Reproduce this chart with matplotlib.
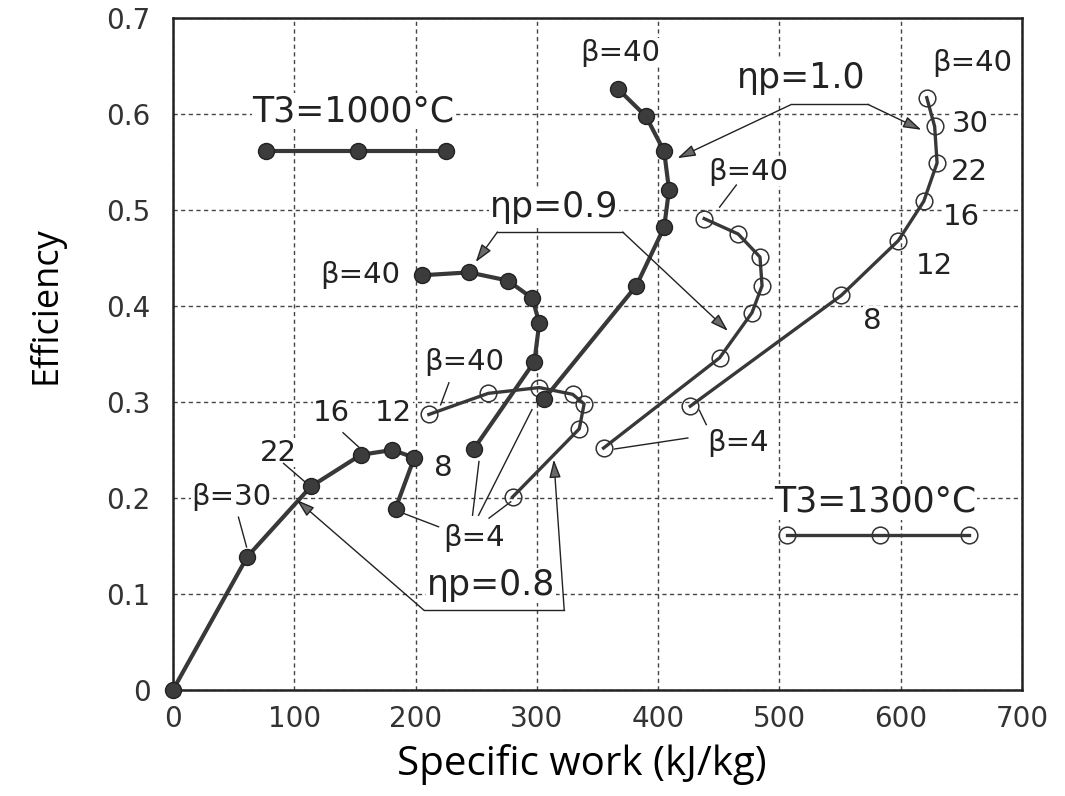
import matplotlib
matplotlib.use("Agg")
import matplotlib.pyplot as plt

# ---------------- data ----------------
# T3 = 1000 C (filled markers), beta order: 40,30,22,16,12,8,4
w_08_1000 = [0, 61.4, 113.8, 155, 181, 199, 183.5]
e_08_1000 = [0.0, 0.139, 0.212, 0.245, 0.250, 0.242, 0.189]

w_09_1000 = [205.5, 244, 276, 296.4, 302, 298, 248]
e_09_1000 = [0.432, 0.435, 0.4265, 0.408, 0.382, 0.342, 0.251]

w_10_1000 = [367, 390, 405, 409, 405, 382, 306]
e_10_1000 = [0.626, 0.5975, 0.561, 0.521, 0.482, 0.421, 0.303]

# T3 = 1300 C (open markers), beta order: 40,30,22,16,12,8,4
w_08_1300 = [211, 260, 302, 329.5, 339, 335, 280]
e_08_1300 = [0.287, 0.309, 0.315, 0.308, 0.298, 0.272, 0.201]

w_09_1300 = [438, 466, 484, 485.7, 477.4, 450.7, 355]
e_09_1300 = [0.491, 0.475, 0.451, 0.421, 0.393, 0.346, 0.252]

w_10_1300 = [621.5, 628, 630, 619, 598, 551, 426.5]
e_10_1300 = [0.617, 0.587, 0.549, 0.509, 0.468, 0.411, 0.2956]

# legend samples
leg1000_x = [76.6, 152.3, 224.8]
leg1000_y = [0.561, 0.561, 0.561]
leg1300_x = [506, 583, 656.5]
leg1300_y = [0.161, 0.161, 0.161]

xticks = [0, 100, 200, 300, 400, 500, 600, 700]
yticks = [0, 0.1, 0.2, 0.3, 0.4, 0.5, 0.6, 0.7]
ytick_labels = ["0", "0.1", "0.2", "0.3", "0.4", "0.5", "0.6", "0.7"]

# text labels: (text, x, y, size)
labels = [
    ("β=30", 48.5, 0.201, 21),
    ("22", 87, 0.247, 21),
    ("16", 131, 0.289, 21),
    ("12", 182, 0.289, 21),
    ("8", 223, 0.231, 21),
    ("β=4", 248, 0.158, 21),
    ("β=40", 154.5, 0.432, 21),
    ("β=40", 240, 0.342, 21),
    ("β=40", 369, 0.664, 21),
    ("β=40", 474, 0.540, 21),
    ("β=40", 658.7, 0.653, 21),
    ("30", 657, 0.5895, 21),
    ("22", 657, 0.540, 21),
    ("16", 650, 0.493, 21),
    ("12", 628, 0.442, 21),
    ("8", 577, 0.3846, 21),
    ("β=4", 466, 0.257, 21),
    ("ηp=0.8", 262, 0.109, 25),
    ("ηp=0.9", 314.5, 0.503, 25),
    ("ηp=1.0", 518, 0.6377, 25),
    ("T3=1000°C", 149, 0.603, 25),
    ("T3=1300°C", 579, 0.196, 25),
]

# leader lines: (x0, y0, x1, y1)
leaders = [
    (54, 0.180, 60.7, 0.149),
    (91.2, 0.236, 110.5, 0.215),
    (140.2, 0.268, 153.2, 0.253),
    (219, 0.170, 190, 0.184),
    (247, 0.182, 252.3, 0.238),
    (252, 0.182, 296, 0.292),
    (260.6, 0.179, 278.5, 0.196),
    (227.5, 0.320, 220.7, 0.297),
    (464.5, 0.526, 450.7, 0.503),
    (424.5, 0.2625, 364, 0.251),
    (439.7, 0.2764, 434, 0.2914),
]

# arrow callouts: corner1, corner2, tip1 (from corner1), tip2 (from corner2)
callouts = [
    ((207, 0.083), (322.6, 0.083), (102, 0.198), (314, 0.240)),
    ((267.5, 0.477), (370.8, 0.477), (249.6, 0.4457), (457.6, 0.374)),
    ((510, 0.610), (573, 0.610), (416, 0.554), (617, 0.5835)),
]

# ---------------- plot ----------------
dark = "#383838"
fig = plt.figure(figsize=(10.65, 7.96), dpi=100)
ax = fig.add_axes([0.1624, 0.1332, 0.7972, 0.8442])
ax.set_xlim(0, 700)
ax.set_ylim(0, 0.7)
ax.set_axisbelow(True)
ax.grid(True, color="#444444", linestyle=(0, (3, 2.5)), linewidth=1.0)

filled = dict(color=dark, linewidth=3.0, marker="o", markersize=11.5,
              markerfacecolor="#3c3c3c", markeredgecolor="#222222",
              markeredgewidth=1.0, zorder=4, clip_on=False)
opened = dict(color=dark, linewidth=2.4, marker="o", markersize=12,
              markerfacecolor="none", markeredgecolor="#333333",
              markeredgewidth=1.1, zorder=3, clip_on=False)

for w, e in [(w_08_1000, e_08_1000), (w_09_1000, e_09_1000), (w_10_1000, e_10_1000)]:
    ax.plot(w, e, **filled)
for w, e in [(w_08_1300, e_08_1300), (w_09_1300, e_09_1300), (w_10_1300, e_10_1300)]:
    ax.plot(w, e, **opened)

ax.plot(leg1000_x, leg1000_y, **filled)
ax.plot(leg1300_x, leg1300_y, **opened)

for t, x, y, s in labels:
    ax.text(x, y, t, fontsize=s, ha="center", va="center", color="#222222",
            family="DejaVu Sans", zorder=1.5,
            bbox=dict(facecolor="white", edgecolor="none", pad=0.5))

for x0, y0, x1, y1 in leaders:
    ax.plot([x0, x1], [y0, y1], color="#222222", linewidth=1.0, zorder=2)

for c1, c2, t1, t2 in callouts:
    ax.plot([c1[0], c2[0]], [c1[1], c2[1]], color="#222222", linewidth=1.0, zorder=2)
    for c, t in [(c1, t1), (c2, t2)]:
        ax.annotate("", xy=t, xytext=c, zorder=5,
                    arrowprops=dict(arrowstyle="-|>,head_length=1.1,head_width=0.35",
                                    facecolor="#6a6a6a", edgecolor="#222222",
                                    linewidth=1.0, shrinkA=0, shrinkB=0))

ax.set_xticks(xticks)
ax.set_xticklabels([str(v) for v in xticks])
ax.set_yticks(yticks)
ax.set_yticklabels(ytick_labels)
ax.tick_params(length=0, labelsize=20, labelcolor="#333333")
ax.tick_params(axis="x", pad=11)
ax.tick_params(axis="y", pad=16)
for sp in ax.spines.values():
    sp.set_linewidth(1.8)
    sp.set_color("#222222")

ax.set_xlabel("Specific work (kJ/kg)", fontsize=29, family="Open Sans")
ax.xaxis.set_label_coords(0.482, -0.08)
ax.set_ylabel("Efficiency", fontsize=26, family="Open Sans")
ax.yaxis.set_label_coords(-0.128, 0.573)

fig.savefig("out.png", dpi=100)
